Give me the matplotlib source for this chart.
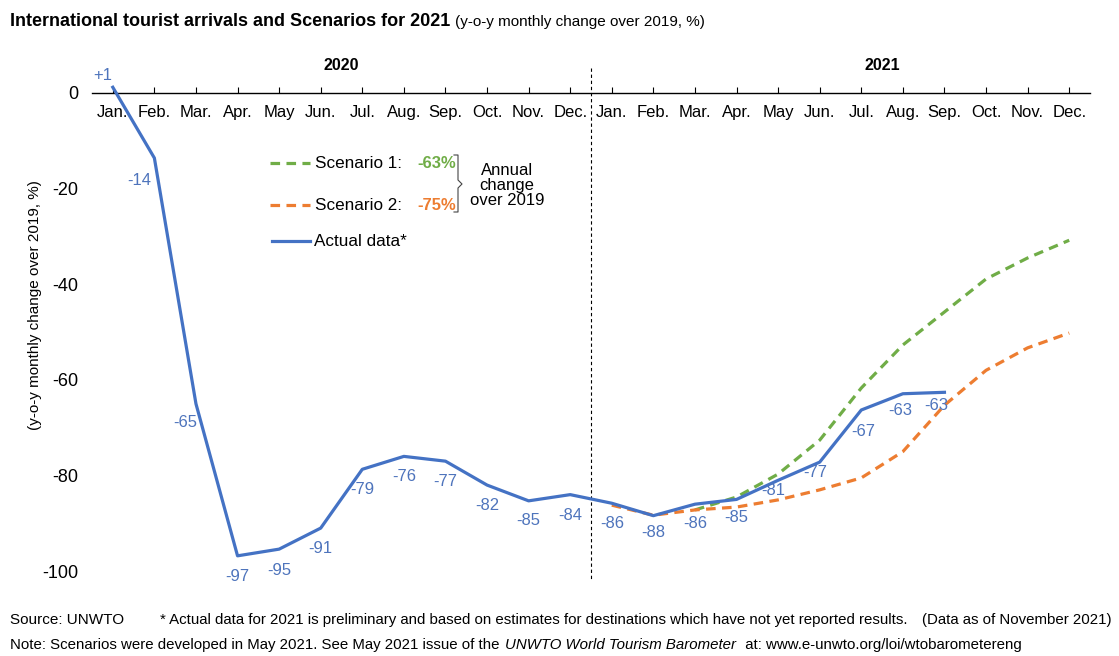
import matplotlib
matplotlib.use("Agg")
import matplotlib.pyplot as plt
from matplotlib.lines import Line2D
import numpy as np

plt.rcParams['font.family'] = ['Liberation Sans', 'DejaVu Sans']

# Data (y-o-y monthly change over 2019, %)
months = ["Jan.", "Feb.", "Mar.", "Apr.", "May", "Jun.", "Jul.", "Aug.", "Sep.", "Oct.", "Nov.", "Dec."] * 2
actual = [1, -14, -65, -97, -95, -91, -79, -76, -77, -82, -85, -84,
          -86, -88, -86, -85, -81, -77, -67, -63, -63]
actual_plot = [1.2, -13.6, -65, -96.8, -95.4, -91, -78.7, -76, -77, -82, -85.3, -84,
               -85.8, -88.4, -86, -85, -81, -77.2, -66.3, -62.9, -62.6]
scen1_months = [14, 15, 16, 17, 18, 19, 20, 21, 22, 23]
scenario1 = [-87.2, -84.5, -79.7, -72.6, -61.7, -52.7, -45.8, -38.9, -34.5, -30.8]
scen2_months = [12, 13, 14, 15, 16, 17, 18, 19, 20, 21, 22, 23]
scenario2 = [-86.2, -88.3, -87.2, -86.6, -85.1, -83.0, -80.5, -75.0, -65.3, -58.0, -53.3, -50.2]
yticks = [0, -20, -40, -60, -80, -100]

blue = "#4472C4"
label_blue = "#4E74BC"
green = "#70AD47"
orange = "#ED7D31"

W, H = 1119, 656
fig = plt.figure(figsize=(W / 100, H / 100), dpi=100)
ax = fig.add_axes([92 / W, 1 - 585 / H, 998 / W, 525 / H])

x = np.arange(len(months))
ax.plot(scen2_months, scenario2, color=orange, lw=2.3, dashes=(3, 2), zorder=3)
ax.plot(scen1_months, scenario1, color=green, lw=2.3, dashes=(3, 2), zorder=2)
ax.plot(x[:len(actual_plot)], actual_plot, color=blue, lw=2.3, zorder=4, clip_on=False)

# data labels (pixel offsets from points)
offsets = [(-10, 12), (-15, -22), (-11, -19), (0, -21), (0, -21), (0, -20), (0, -20),
           (0, -20), (0, -20), (0, -20), (0, -20), (0, -21), (0, -20), (0, -17),
           (0, -19), (0, -18), (-5, -10), (-4, -10), (2, -22), (-3, -17), (-8, -13)]
for i, (v, yv) in enumerate(zip(actual, actual_plot)):
    txt = "+%d" % v if v > 0 else "%d" % v
    ax.annotate(txt, (i, yv), xytext=offsets[i], textcoords="offset pixels",
                ha="center", va="center", fontsize=12, color=label_blue,
                annotation_clip=False, zorder=5)

# divider between years
ax.plot([11.5, 11.5], [5.2, -102], color="black", lw=0.8, ls=(0, (3, 2.5)), clip_on=False)

ax.set_xlim(-0.5, 23.5)
ax.set_ylim(-102.9, 6.9)
ax.tick_params(axis="x", direction="in", length=4, pad=9, width=0.8, labelsize=12)
ax.tick_params(axis="y", length=0, pad=10, labelsize=13)
ax.set_yticks(yticks)
ax.set_yticklabels([str(t) for t in yticks])
ax.set_xticks(x)
ax.set_xticklabels(months)
for s in ["top", "right", "left"]:
    ax.spines[s].set_visible(False)
ax.spines["bottom"].set_position(("data", 0))
ax.spines["bottom"].set_linewidth(1.0)

ax.text(5.5, 5.8, "2020", ha="center", va="center", fontsize=11.5, fontweight="bold")
ax.text(18.5, 5.8, "2021", ha="center", va="center", fontsize=11.5, fontweight="bold")

fig.text(35 / W, 1 - 305 / H, "(y-o-y monthly change over 2019, %)", rotation=90,
         ha="center", va="center", fontsize=11)

# title
renderer = fig.canvas.get_renderer()
t1 = fig.text(10 / W, 1 - 22 / H, "International tourist arrivals and Scenarios for 2021",
              fontsize=13, fontweight="bold", va="center")
bb = t1.get_window_extent(renderer)
fig.text((bb.x1 + 5) / W, 1 - 22 / H, "(y-o-y monthly change over 2019, %)",
         fontsize=11, va="center")

# legend, drawn in pixel coordinates
def fx(px):
    return px / W

def fy(py):
    return 1 - py / H

fig.add_artist(Line2D([fx(270), fx(310)], [fy(163), fy(163)], color=green, lw=2.3, dashes=(3, 2)))
fig.add_artist(Line2D([fx(270), fx(310)], [fy(205), fy(205)], color=orange, lw=2.3, dashes=(3, 2)))
fig.add_artist(Line2D([fx(272), fx(310)], [fy(241), fy(241)], color=blue, lw=2.3))
fig.text(fx(315), fy(163), "Scenario 1:", fontsize=12.3, va="center")
fig.text(fx(315), fy(205), "Scenario 2:", fontsize=12.3, va="center")
fig.text(fx(417), fy(163), "-63%", fontsize=12, va="center", color=green, fontweight="bold")
fig.text(fx(417), fy(205), "-75%", fontsize=12, va="center", color=orange, fontweight="bold")
fig.text(fx(314), fy(241), "Actual data*", fontsize=12.3, va="center")
fig.add_artist(Line2D([fx(454), fx(458), fx(458), fx(462), fx(458), fx(458), fx(454)],
                      [fy(155), fy(155), fy(180), fy(184), fy(188), fy(212), fy(212)],
                      color="#444444", lw=0.8))
fig.text(fx(507), fy(186), "Annual\nchange\nover 2019", fontsize=12, ha="center",
         va="center", linespacing=1.0)

# footer
fig.text(fx(10), fy(620), "Source: UNWTO", fontsize=11, va="center")
fig.text(fx(160), fy(620), "* Actual data for 2021 is preliminary and based on estimates for "
         "destinations which have not yet reported results.", fontsize=10.8, va="center")
fig.text(fx(1112), fy(620), "(Data as of November 2021)", fontsize=10.8, va="center", ha="right")
pieces = [("Note: Scenarios were developed in May 2021. See May 2021 issue of the ", "normal"),
          ("UNWTO World Tourism Barometer", "italic"),
          ("  at: www.e-unwto.org/loi/wtobarometereng", "normal")]
xpos = 10
for s, style in pieces:
    t = fig.text(fx(xpos), fy(645), s, fontsize=10.8, va="center", style=style)
    xpos = t.get_window_extent(renderer).x1 + 1

fig.savefig("out.png", dpi=100)
